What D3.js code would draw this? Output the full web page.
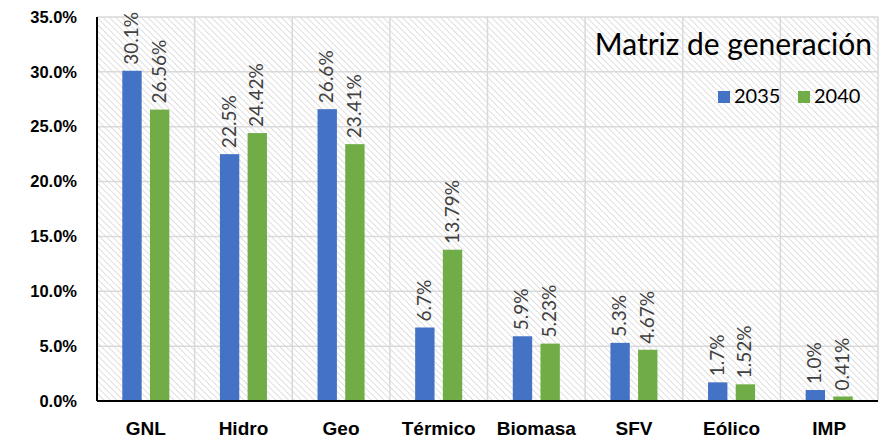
<!DOCTYPE html>
<html>
<head>
<meta charset="utf-8">
<script src="https://cdn.jsdelivr.net/npm/d3@7"></script>
<style>
  body { margin: 0; background: #fff; }
  svg { display: block; font-family: Lato, "Open Sans", sans-serif; }
</style>
</head>
<body>
<svg id="chart" width="881" height="442"></svg>
<script>
// Generation mix by source, share of total
const categories = ["GNL", "Hidro", "Geo", "Térmico", "Biomasa", "SFV", "Eólico", "IMP"];
const seriesNames = ["2035", "2040"];
const values2035 = [30.1, 22.5, 26.6, 6.7, 5.9, 5.3, 1.7, 1.0];
const values2040 = [26.56, 24.42, 23.41, 13.79, 5.23, 4.67, 1.52, 0.41];
const labels2035 = ["30.1%", "22.5%", "26.6%", "6.7%", "5.9%", "5.3%", "1.7%", "1.0%"];
const labels2040 = ["26.56%", "24.42%", "23.41%", "13.79%", "5.23%", "4.67%", "1.52%", "0.41%"];
const yTicks = [0, 5, 10, 15, 20, 25, 30, 35];
const colors = ["#4472c4", "#70ad47"];
const title = "Matriz de generación";

const svg = d3.select("#chart");
const margin = { left: 97, right: 3, top: 17, bottom: 41 };
const W = 881, H = 442;
const innerW = W - margin.left - margin.right;
const innerH = H - margin.top - margin.bottom;

const defs = svg.append("defs");
const pat = defs.append("pattern")
  .attr("id", "hatch")
  .attr("patternUnits", "userSpaceOnUse")
  .attr("width", 4.5).attr("height", 4.5)
  .attr("patternTransform", "rotate(45)");
pat.append("rect").attr("width", 4.5).attr("height", 4.5).attr("fill", "#ffffff");
pat.append("line").attr("x1", 0).attr("y1", 0).attr("x2", 4.5).attr("y2", 0)
  .attr("stroke", "#dcdcdc").attr("stroke-width", 1.8);

const g = svg.append("g").attr("transform", `translate(${margin.left},${margin.top})`);

const x0 = d3.scaleBand().domain(categories).range([0, innerW]).paddingInner(0.518).paddingOuter(0.259);
const x1 = d3.scaleBand().domain(seriesNames).range([0, x0.bandwidth()]).paddingInner(0.3).paddingOuter(0);
const y = d3.scaleLinear().domain([0, 35]).range([innerH, 0]);

// background with hatch
g.append("rect").attr("width", innerW).attr("height", innerH).attr("fill", "url(#hatch)");

// horizontal gridlines
g.append("g").selectAll("line").data(yTicks.slice(1)).join("line")
  .attr("x1", 0).attr("x2", innerW)
  .attr("y1", d => y(d)).attr("y2", d => y(d))
  .attr("stroke", "#d9d9d9").attr("stroke-width", 1.5);

// vertical gridlines at category boundaries
const step = x0.step();
g.append("g").selectAll("line").data(d3.range(1, categories.length + 1)).join("line")
  .attr("x1", d => d * step).attr("x2", d => d * step)
  .attr("y1", 0).attr("y2", innerH)
  .attr("stroke", "#d9d9d9").attr("stroke-width", 1.5);

// bars
const rows = categories.map((c, i) => ({
  cat: c,
  items: [
    { s: seriesNames[0], v: values2035[i], label: labels2035[i], color: colors[0] },
    { s: seriesNames[1], v: values2040[i], label: labels2040[i], color: colors[1] }
  ]
}));

const groups = g.append("g").selectAll("g").data(rows).join("g")
  .attr("transform", d => `translate(${x0(d.cat)},0)`);

groups.selectAll("rect").data(d => d.items).join("rect")
  .attr("x", d => x1(d.s))
  .attr("width", x1.bandwidth())
  .attr("y", d => y(d.v))
  .attr("height", d => innerH - y(d.v))
  .attr("fill", d => d.color);

// value labels, rotated
groups.selectAll("text").data(d => d.items).join("text")
  .attr("transform", d => `translate(${x1(d.s) + x1.bandwidth() / 2 + 6},${y(d.v) - 6}) rotate(-90)`)
  .attr("text-anchor", "start")
  .attr("font-size", 19)
  .attr("fill", "#404040")
  .text(d => d.label);

// y axis
const yAxis = g.append("g").call(d3.axisLeft(y).tickValues(yTicks).tickSize(0).tickPadding(20)
  .tickFormat(d => d.toFixed(1) + "%"));
yAxis.select(".domain").remove();
yAxis.selectAll("text").attr("font-size", 16.5).attr("font-weight", "bold").attr("fill", "#000");

g.append("line").attr("x1", 0).attr("x2", 0).attr("y1", 0).attr("y2", innerH)
  .attr("stroke", "#000").attr("stroke-width", 2);

// x axis
const xAxis = g.append("g").attr("transform", `translate(0,${innerH})`)
  .call(d3.axisBottom(x0).tickSize(0).tickPadding(21));
xAxis.select(".domain").remove();
xAxis.selectAll("text").attr("font-size", 19).attr("font-weight", "bold").attr("fill", "#000");

g.append("line").attr("x1", 0).attr("x2", innerW).attr("y1", innerH).attr("y2", innerH)
  .attr("stroke", "#000").attr("stroke-width", 2);

// title
svg.append("text").attr("x", 872).attr("y", 55).attr("text-anchor", "end")
  .attr("font-size", 30).attr("fill", "#000").text(title);

// legend
const legend = svg.append("g").selectAll("g").data(seriesNames).join("g")
  .attr("transform", (d, i) => `translate(${718 + i * 80},91)`);
legend.append("rect").attr("width", 12).attr("height", 12).attr("fill", (d, i) => colors[i]);
legend.append("text").attr("x", 16).attr("y", 12).attr("font-size", 20).attr("fill", "#000").text(d => d);
</script>
</body>
</html>
